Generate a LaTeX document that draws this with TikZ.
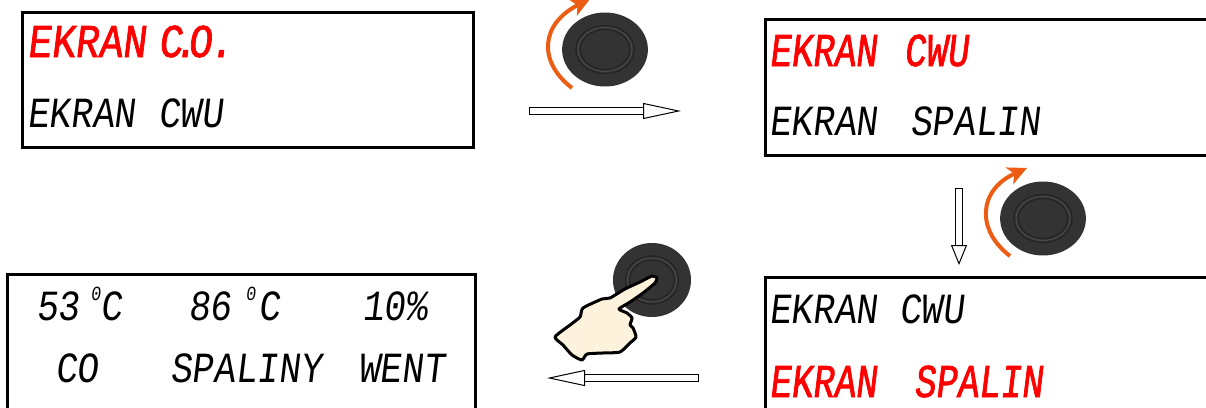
\documentclass[tikz,border=0pt]{standalone}
\usepackage{fontspec}
\usepackage{tikz}
\usetikzlibrary{arrows.meta,shapes.geometric}
\newfontfamily\lcdfont[FakeSlant=0.12,FakeStretch=0.84]{Liberation Mono}
\newfontfamily\lcdbold[FakeSlant=0.12,FakeStretch=0.84,FakeBold=1.5]{Liberation Mono}
\newfontfamily\lcdnarrow[FakeSlant=0.12,FakeStretch=0.76,FakeBold=1.5]{Liberation Mono}
\newcommand{\degsign}{\raisebox{20pt}{\fontsize{20}{20}\selectfont 0}}

\begin{document}
\begin{tikzpicture}[
    x=1pt, y=-1pt,
    panel/.style={draw, line width=3pt, inner sep=0pt},
    lcd/.style={anchor=base west, inner sep=0pt, font=\lcdfont\fontsize{43}{43}\selectfont},
    lcdred/.style={anchor=base west, inner sep=0pt, text=red, font=\lcdbold\fontsize{47}{47}\selectfont},
    lcdrednarrow/.style={lcdred, font=\lcdnarrow\fontsize{47}{47}\selectfont},
    hollow/.style={double, double distance=6pt, line width=1pt,
        {Bar[width=8pt,line width=1pt]}-{Triangle[open,fill=white,length=38pt,width=16pt,line width=1pt]}},
    turn/.style={line width=4pt, draw=orange1, -{Stealth[length=19pt,width=18pt,inset=5pt]}},
    knob/.pic={
        \fill[knobdark] (0,0) ellipse [x radius=39, y radius=37];
        \draw[black!85, line width=1.5pt] (0,0) ellipse [x radius=26.5, y radius=24];
        \draw[knobring, line width=1pt] (0,0) ellipse [x radius=24.5, y radius=22];
        \draw[black!85, line width=1.5pt] (0,0) ellipse [x radius=22.5, y radius=20];
    }
]
\definecolor{orange1}{HTML}{EC5C12}
\definecolor{knobdark}{HTML}{333333}
\definecolor{knobring}{HTML}{4A4A4A}
\definecolor{handfill}{HTML}{FDF3DC}
\clip (0,0) rectangle (1206,407);

\node[panel, minimum width=451pt, minimum height=135pt] (ekranco) at (247.5,79.5) {};
\node[panel, minimum width=445pt, minimum height=136pt] (ekrancwu) at (987.5,87) {};
\node[panel, minimum width=445pt, minimum height=135pt] (ekranspalin) at (987.5,344.5) {};
\node[panel, minimum width=468pt, minimum height=138pt] (odczyt) at (241,343) {};

\node[lcdred] (coA) at (27,57) {EKRAN\hspace{-11pt} C\hspace{-9pt}.\hspace{-9pt}O\hspace{-2.5pt}.};
\node[lcd] (cwuA) at (27,127) {EKRAN\hspace{1pt} CWU};
\node[lcdrednarrow] (cwuB) at (769,66) {EKRAN\hspace{6pt} CWU};
\node[lcd] (spalinB) at (769,135) {EKRAN\hspace{11pt} SPALIN};
\node[lcd] (cwuC) at (769,323) {EKRAN\hspace{0pt} CWU};
\node[lcdrednarrow] (spalinC) at (769,397) {EKRAN\hspace{16pt} SPALIN};

\node[lcd] (tempco) at (36,320) {53\hspace{11pt}\degsign C};
\node[lcd] (tempsp) at (188,320) {86\hspace{14pt}\degsign\hspace{3pt}C};
\node[lcd] (went) at (362,320) {10\%};
\node[lcd] (nameco) at (55,382) {CO};
\node[lcd] (namesp) at (170,382) {SPALINY};
\node[lcd] (namewe) at (358,382) {WENT};

\coordinate (prawoA) at (529,111);
\coordinate (prawoB) at (681,111);
\coordinate (dolA) at (959,188);
\coordinate (dolB) at (959,265);
\coordinate (lewoA) at (699,378);
\coordinate (lewoB) at (547,378);
\draw[hollow] (prawoA) -- (prawoB);
\draw[hollow, {Bar[width=8pt,line width=1pt]}-{Triangle[open,fill=white,length=20pt,width=16pt,line width=1pt]}] (dolA) -- (dolB);
\draw[hollow] (lewoA) -- (lewoB);

\pic[xscale=1.1] (knobA) at (605,49.5) {knob};
\pic[xscale=1.1] (knobB) at (1043,218.5) {knob};
\pic (knobC) at (652,280) {knob};

\draw[turn] (572,88) .. controls (538,62) and (540,24) .. (590,-1);
\draw[turn] (1010,256) .. controls (976,230) and (978,190) .. (1027,168);

\draw[fill=handfill, draw=black, line width=3pt, line join=round]
    plot[smooth cycle, tension=.35] coordinates {
    (657,278) (652,276) (640,282) (625,289) (610,298) (602,299) (583,308) (580,317)
    (570,325) (555,337) (563,345) (572,355) (582,360) (587,354) (603,353) (620,352)
    (630,343) (636,337) (633,328) (630,325) (632,318) (627,313) (619,309) (630,302)
    (643,293) (655,283)};
\end{tikzpicture}
\end{document}
